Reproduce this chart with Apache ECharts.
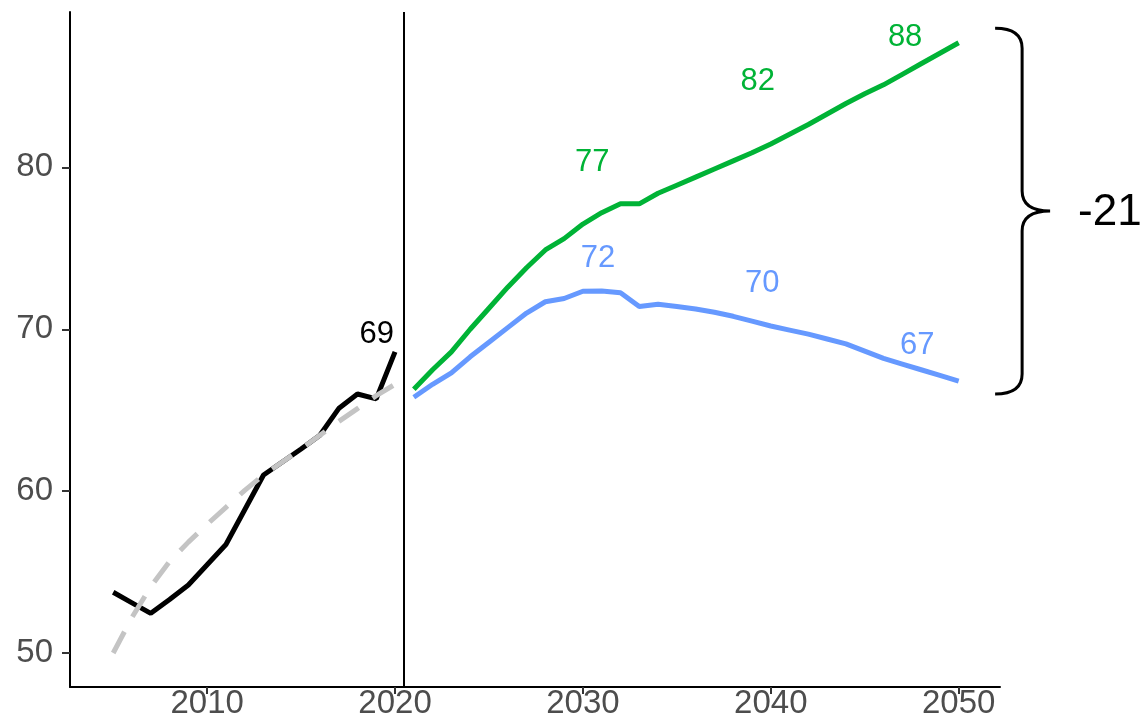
<!DOCTYPE html>
<html>
<head>
<meta charset="utf-8">
<script src="https://cdn.jsdelivr.net/npm/echarts@6/dist/echarts.min.js"></script>
<style>
  html, body { margin: 0; padding: 0; background: #fff; }
  #myChart { width: 1148px; height: 719px; }
</style>
</head>
<body>
<div id="myChart"></div>
<script>
// historical values (black) and fitted trend (grey dashed)
var histYears = [2005, 2006, 2007, 2008, 2009, 2010, 2011, 2012, 2013, 2014, 2015, 2016, 2017, 2018, 2019, 2020];
var histValues = [53.75, 53.1, 52.45, 53.3, 54.2, 55.45, 56.7, 58.85, 61.0, 61.8, 62.6, 63.45, 65.1, 66.0, 65.7, 68.6];
var trendValues = [50.0, 52.2, 54.1, 55.65, 56.85, 57.95, 59.0, 60.05, 61.0, 61.8, 62.6, 63.45, 64.3, 65.1, 65.9, 66.6];

// projections
var projYears = [2021, 2022, 2023, 2024, 2025, 2026, 2027, 2028, 2029, 2030,
                 2031, 2032, 2033, 2034, 2035, 2036, 2037, 2038, 2039, 2040,
                 2041, 2042, 2043, 2044, 2045, 2046, 2047, 2048, 2049, 2050];
var greenValues = [66.3, 67.5, 68.6, 70.0, 71.3, 72.6, 73.8, 74.9, 75.6, 76.5,
                   77.2, 77.75, 77.75, 78.4, 78.9, 79.4, 79.9, 80.4, 80.9, 81.45,
                   82.05, 82.65, 83.3, 83.95, 84.55, 85.1, 85.75, 86.4, 87.05, 87.7];
var blueValues = [65.8, 66.6, 67.3, 68.3, 69.2, 70.1, 71.0, 71.7, 71.9, 72.35,
                  72.37, 72.25, 71.4, 71.55, 71.4, 71.25, 71.05, 70.8, 70.5, 70.2,
                  69.95, 69.7, 69.4, 69.1, 68.65, 68.2, 67.85, 67.5, 67.15, 66.8];

// value labels [year, value, text]
var greenLabels = [[2030.5, 80.3, '77'], [2039.3, 85.3, '82'], [2047.15, 88.0, '88']];
var blueLabels = [[2030.8, 74.4, '72'], [2039.55, 72.8, '70'], [2047.8, 69.0, '67']];
var histLabels = [[2019.03, 69.7, '69']];

// ticks
var xTicks = [2010, 2020, 2030, 2040, 2050];
var yTicks = [50, 60, 70, 80];

var splitYear = 2020.45;             // vertical separator
var braceSpan = [[2051.94, 88.6, 66.0]]; // x, top, bottom of the brace

function pairs(xs, ys) {
  return xs.map(function (x, i) { return [x, ys[i]]; });
}

var font = "'Liberation Sans', Arial, sans-serif";
var green = '#00b336';
var blue = '#6699ff';

function labelSeries(data, color) {
  return {
    type: 'scatter',
    data: data,
    symbolSize: 0,
    silent: true,
    z: 5,
    itemStyle: { opacity: 1 },
    label: {
      show: true,
      position: 'inside',
      formatter: function (p) { return p.data[2]; },
      color: color,
      opacity: 1,
      fontSize: 31,
      fontFamily: font
    }
  };
}

var option = {
  animation: false,
  grid: { left: 70, right: 148, top: 12, bottom: 32, containLabel: false, outerBoundsMode: 'none' },
  xAxis: {
    type: 'value',
    min: 2002.7,
    max: 2052.2,
    axisLine: { show: true, lineStyle: { color: '#000', width: 2 } },
    axisTick: { show: true, customValues: xTicks, length: 7, lineStyle: { color: '#333', width: 2 } },
    axisLabel: {
      customValues: xTicks,
      formatter: function (v) { return String(v); },
      fontSize: 33, color: '#4d4d4d', fontFamily: font, margin: 0
    },
    splitLine: { show: false }
  },
  yAxis: {
    type: 'value',
    min: 47.9,
    max: 89.6,
    axisLine: { show: true, lineStyle: { color: '#000', width: 2 } },
    axisTick: { show: true, customValues: yTicks, length: 8, lineStyle: { color: '#333', width: 2 } },
    axisLabel: { customValues: yTicks, fontSize: 33, color: '#4d4d4d', fontFamily: font, margin: 17 },
    splitLine: { show: false }
  },
  series: [
    {
      type: 'line',
      data: pairs(histYears, histValues),
      showSymbol: false,
      lineStyle: { color: '#000', width: 5 },
      z: 2,
      markLine: {
        silent: true,
        symbol: 'none',
        label: { show: false },
        lineStyle: { color: '#000', type: 'solid', width: 2 },
        data: [{ xAxis: splitYear }]
      }
    },
    {
      type: 'line',
      data: pairs(histYears, trendValues),
      showSymbol: false,
      lineStyle: { color: '#c4c4c4', width: 5, type: [24, 17], cap: 'butt' },
      z: 3
    },
    {
      type: 'line',
      data: pairs(projYears, greenValues),
      showSymbol: false,
      lineStyle: { color: green, width: 5 },
      z: 2
    },
    {
      type: 'line',
      data: pairs(projYears, blueValues),
      showSymbol: false,
      lineStyle: { color: blue, width: 5 },
      z: 2
    },
    labelSeries(greenLabels, green),
    labelSeries(blueLabels, blue),
    labelSeries(histLabels, '#000'),
    {
      // curly brace showing the gap between the two projections in 2050
      type: 'custom',
      data: braceSpan,
      clip: false,
      silent: true,
      renderItem: function (params, api) {
        var a = api.coord([api.value(0), api.value(1)]);
        var b = api.coord([api.value(0), api.value(2)]);
        var x0 = a[0], y0 = a[1], y1 = b[1];
        var xv = x0 + 27, tip = x0 + 55, mid = (y0 + y1) / 2;
        var d = 'M' + x0 + ' ' + y0 +
          ' Q' + xv + ' ' + y0 + ' ' + xv + ' ' + (y0 + 20) +
          ' L' + xv + ' ' + (mid - 20) +
          ' Q' + xv + ' ' + mid + ' ' + tip + ' ' + mid +
          ' Q' + xv + ' ' + mid + ' ' + xv + ' ' + (mid + 20) +
          ' L' + xv + ' ' + (y1 - 20) +
          ' Q' + xv + ' ' + y1 + ' ' + x0 + ' ' + y1;
        var gap = Math.round(blueValues[blueValues.length - 1] - greenValues[greenValues.length - 1]);
        return {
          type: 'group',
          children: [
            {
              type: 'path',
              shape: { pathData: d },
              style: { fill: 'none', stroke: '#000', lineWidth: 3 }
            },
            {
              type: 'text',
              style: {
                text: String(gap),
                x: tip + 28,
                y: mid + 2,
                fill: '#000',
                fontSize: 44,
                fontFamily: font,
                verticalAlign: 'middle',
                align: 'left'
              }
            }
          ]
        };
      }
    }
  ]
};

var myChart = echarts.init(document.getElementById('myChart'));
myChart.setOption(option);
</script>
</body>
</html>
